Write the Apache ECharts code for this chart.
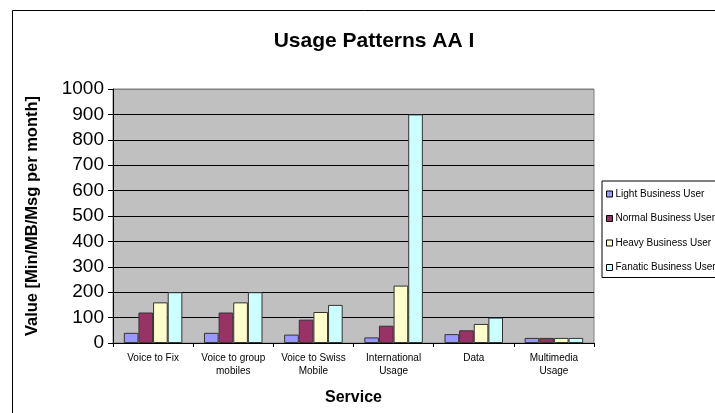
<!DOCTYPE html>
<html>
<head>
<meta charset="utf-8">
<script src="https://cdn.jsdelivr.net/npm/echarts@6/dist/echarts.min.js"></script>
<style>
  html, body { margin: 0; padding: 0; background: #fff; }
  #chart { width: 715px; height: 413px; }
</style>
</head>
<body>
<div id="chart"></div>
<script>
var services = ['Voice to Fix', 'Voice to group\nmobiles', 'Voice to Swiss\nMobile', 'International\nUsage', 'Data', 'Multimedia\nUsage'];
var seriesNames = ['Light Business User', 'Normal Business User', 'Heavy Business User', 'Fanatic Business User'];
var lightUser = [40, 40, 33, 22, 35, 20];
var normalUser = [120, 120, 92, 68, 50, 20];
var heavyUser = [160, 160, 122, 226, 75, 20];
var fanaticUser = [200, 200, 150, 900, 100, 20];
var colors = ['#9999ff', '#993366', '#ffffcc', '#ccffff'];

var font = '"Liberation Sans", Arial, sans-serif';
var chart = echarts.init(document.getElementById('chart'), null, { renderer: 'canvas' });

// top gridline doubles as the grey plot border
var gridColors = [];
for (var i = 0; i < 10; i++) gridColors.push('#000');
gridColors.push('#808080');

function bar(name, data, color) {
    return {
        name: name,
        type: 'bar',
        data: data,
        barGap: '0%',
        barCategoryGap: '27%',
        itemStyle: { color: color, borderColor: '#333', borderWidth: 1 }
    };
}

chart.setOption({
    animation: false,
    textStyle: { fontFamily: font },
    graphic: [{
        type: 'rect',
        shape: { x: 12.5, y: 10.5, width: 800, height: 500 },
        style: { fill: null, stroke: '#000', lineWidth: 1 },
        z: -10
    }],
    title: {
        text: 'Usage Patterns AA I',
        left: 369,
        top: 26,
        textAlign: 'center',
        textStyle: { fontFamily: font, fontSize: 21, fontWeight: 'bold', color: '#000' }
    },
    legend: {
        orient: 'vertical',
        left: 602,
        top: 181,
        padding: [8, 10, 5, 4],
        itemGap: 14.5,
        itemWidth: 6,
        itemHeight: 6,
        icon: 'rect',
        borderColor: '#000',
        borderWidth: 1,
        backgroundColor: '#fff',
        textStyle: { fontFamily: font, fontSize: 10, color: '#000', padding: [0, 0, 0, -2] },
        itemStyle: { borderColor: '#000', borderWidth: 1 },
        data: seriesNames
    },
    grid: {
        left: 113, right: 121, top: 89, bottom: 70,
        outerBoundsMode: 'none',
        containLabel: false,
        show: true,
        backgroundColor: '#c0c0c0',
        borderColor: '#808080',
        borderWidth: 1
    },
    xAxis: {
        type: 'category',
        data: services,
        name: 'Service',
        nameLocation: 'middle',
        nameGap: 47,
        nameTextStyle: { fontFamily: font, fontSize: 16, fontWeight: 'bold', color: '#000' },
        axisLine: { lineStyle: { color: '#000', width: 1 } },
        axisTick: { show: true, length: 4, lineStyle: { color: '#000' } },
        axisLabel: { fontFamily: font, fontSize: 10, color: '#000', margin: 9, lineHeight: 13, interval: 0 }
    },
    yAxis: {
        type: 'value',
        min: 0,
        max: 1000,
        interval: 100,
        name: 'Value [Min/MB/Msg per month]',
        nameLocation: 'middle',
        nameGap: 72,
        nameTextStyle: { fontFamily: font, fontSize: 16.5, fontWeight: 'bold', color: '#000' },
        axisLine: { show: true, lineStyle: { color: '#000', width: 1 } },
        axisTick: { show: true, length: 5, lineStyle: { color: '#000' } },
        axisLabel: {
            fontFamily: font, fontSize: 19, color: '#000', margin: 9,
            formatter: function (v) { return String(v); }
        },
        splitLine: { show: true, lineStyle: { color: gridColors, width: 1 } }
    },
    series: [
        bar(seriesNames[0], lightUser, colors[0]),
        bar(seriesNames[1], normalUser, colors[1]),
        bar(seriesNames[2], heavyUser, colors[2]),
        bar(seriesNames[3], fanaticUser, colors[3])
    ]
});
</script>
</body>
</html>
